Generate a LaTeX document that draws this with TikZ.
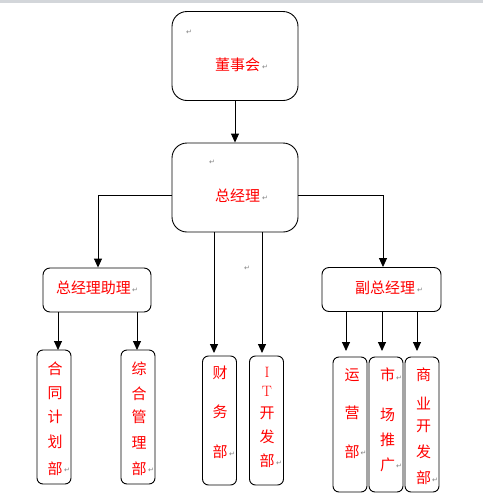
\documentclass[tikz,border=0pt]{standalone}
\usepackage{fontspec}
\newfontfamily\cjk{Noto Sans CJK SC}
\newfontfamily\dejavu{DejaVu Sans}
\usetikzlibrary{arrows.meta}
\definecolor{topbar}{HTML}{D3D6DA}
\definecolor{pmgray}{HTML}{808080}
\begin{document}
\begin{tikzpicture}[x=1pt,y=-1pt,
  box/.style={draw=black,line width=0.9pt,inner sep=0pt,fill=white},
  bigbox/.style={box,minimum width=126pt,minimum height=89pt,rounded corners=15pt},
  midbox/.style={box,minimum height=44pt,rounded corners=7pt},
  vbox/.style={box,minimum width=34pt,rounded corners=6pt},
  lbl/.style={inner sep=0pt,text=red,font=\cjk\fontsize{15}{15}\selectfont},
  pm/.style={inner sep=0pt,text=pmgray,font=\dejavu\fontsize{7}{7}\selectfont},
  arr/.style={line width=0.9pt,-{Triangle[width=8pt,length=9pt]}},
  ln/.style={line width=0.9pt}]
\useasboundingbox (0,0) rectangle (483,501);
\fill[topbar] (0,0) rectangle (483,2.5);
% boxes
\node[bigbox] (board) at (235,56) {};
\node[bigbox] (gm) at (235,187.5) {};
\node[midbox,minimum width=108pt] (asst) at (97,290) {};
\node[midbox,minimum width=119pt] (vice) at (381.5,289.5) {};
\node[vbox,minimum height=134pt] (b1) at (54,417) {};
\node[vbox,minimum height=134pt] (b2) at (138,417) {};
\node[vbox,minimum height=129pt] (b3) at (219.5,420.5) {};
\node[vbox,minimum height=129pt] (b4) at (266.5,420.5) {};
\node[vbox,minimum height=135pt] (b5) at (350,424.5) {};
\node[vbox,minimum height=135pt] (b6) at (386,424.5) {};
\node[vbox,minimum height=135pt] (b7) at (422,424.5) {};
% connector helper coordinates
\coordinate (j1) at (98,195);
\coordinate (j2) at (383,195);
\coordinate (a1) at (58,350);
\coordinate (a2) at (137,350);
\coordinate (a3) at (214,353);
\coordinate (a4) at (262,353);
\coordinate (a5) at (346,351);
\coordinate (a6) at (382,351);
\coordinate (a7) at (417,351);
% connectors
\draw[arr] (board.south) -- (gm.north);
\draw[arr] (gm.west |- j1) -- (j1) -- (asst.north -| j1);
\draw[arr] (gm.east |- j2) -- (j2) -- (vice.north -| j2);
\draw[arr] (asst.south -| a1) -- (a1);
\draw[arr] (asst.south -| a2) -- (a2);
\draw[arr] (gm.south -| a3) -- (a3);
\draw[arr] (gm.south -| a4) -- (a4);
\draw[arr] (vice.south -| a5) -- (a5);
\draw[arr] (vice.south -| a6) -- (a6);
\draw[arr] (vice.south -| a7) -- (a7);
% labels
\node[lbl] (t-board) at (237.5,65) {董事会};
\node[pm] (pm-board) at (265,67) {↵};
\node[pm] (pm-board2) at (189,32) {↵};
\node[lbl] (t-gm) at (237.5,196) {总经理};
\node[pm] (pm-gm) at (265,198) {↵};
\node[pm] (pm-gm2) at (212,162) {↵};
\node[pm] (pm-free) at (247,268) {↵};
\node[lbl] (t-asst) at (93.5,288) {总经理助理};
\node[pm] (pm-asst) at (135,290) {↵};
\node[lbl] (t-vice) at (385,288) {副总经理};
\node[pm] (pm-vice) at (420,290) {↵};
% vertical labels
\foreach \c/\yy [count=\i] in {合/369,同/393,计/417,划/442,部/469}
  \node[lbl] (l1-\i) at (55,\yy) {\c};
\node[pm] (pm-b1) at (67,470) {↵};
\foreach \c/\yy [count=\i] in {综/369,合/394,管/417,理/443,部/469}
  \node[lbl] (l2-\i) at (139,\yy) {\c};
\node[pm] (pm-b2) at (151,470) {↵};
\foreach \c/\yy [count=\i] in {财/373,务/412,部/452}
  \node[lbl] (l3-\i) at (220,\yy) {\c};
\node[pm] (pm-b3) at (232,454) {↵};
\node[lbl,font=\fontsize{15}{15}\selectfont] (l4-1) at (267,372) {I};
\node[lbl,font=\fontsize{15}{15}\selectfont] (l4-2) at (267,391) {T};
\foreach \c/\yy [count=\i from 3] in {开/413,发/437,部/461}
  \node[lbl] (l4-\i) at (267,\yy) {\c};
\node[pm] (pm-b4) at (279,463) {↵};
\foreach \c/\yy [count=\i] in {运/375,营/413,部/452}
  \node[lbl] (l5-\i) at (352,\yy) {\c};
\node[pm] (pm-b5) at (363.5,453) {↵};
\foreach \c/\yy [count=\i] in {市/375,场/415,推/440,广/465}
  \node[lbl] (l6-\i) at (387.5,\yy) {\c};
\node[pm] (pm-b6a) at (399,378) {↵};
\node[pm] (pm-b6b) at (399,466) {↵};
\foreach \c/\yy [count=\i] in {商/375,业/403,开/426,发/452,部/478}
  \node[lbl] (l7-\i) at (423.5,\yy) {\c};
\node[pm] (pm-b7) at (435,480) {↵};
\end{tikzpicture}
\end{document}
